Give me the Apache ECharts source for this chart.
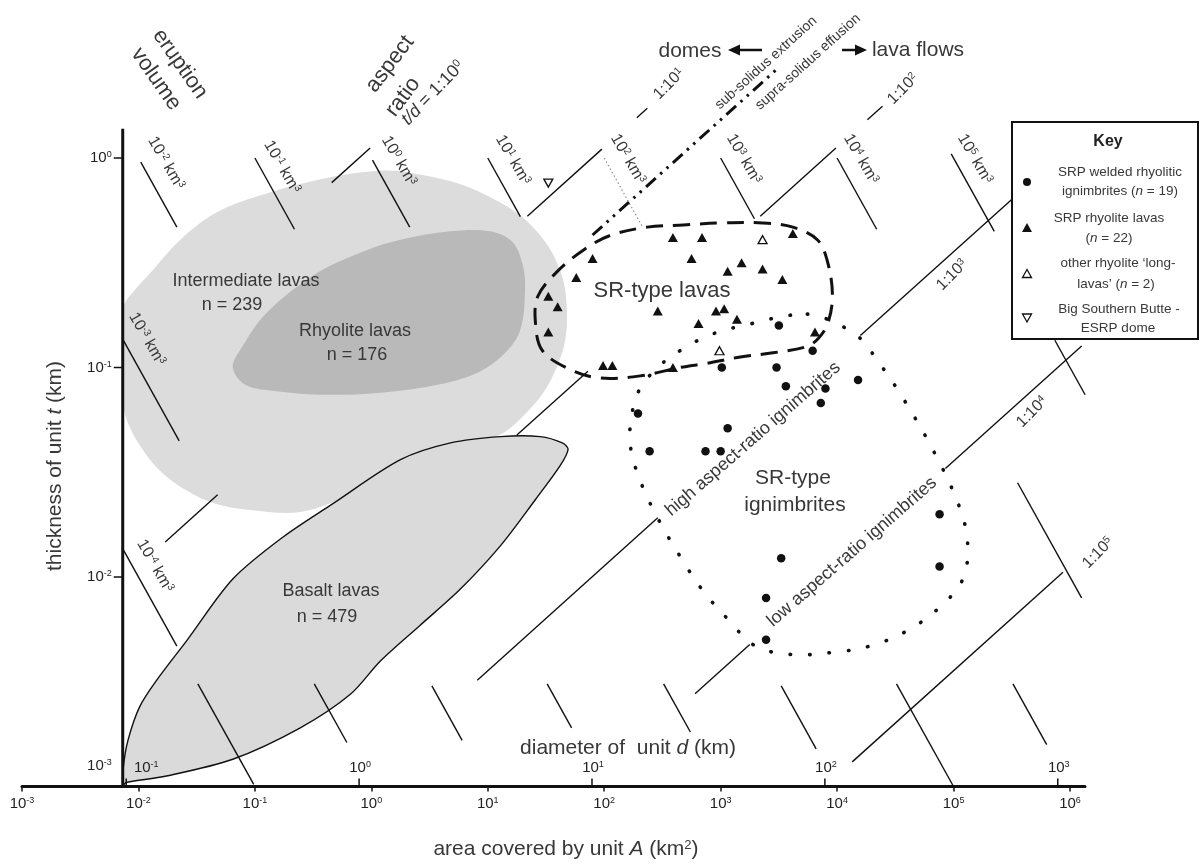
<!DOCTYPE html>
<html><head><meta charset="utf-8">
<script src="https://cdn.jsdelivr.net/npm/echarts@6/dist/echarts.min.js"></script>
<style>html,body{margin:0;padding:0;background:#fff}#c{width:1200px;height:864px}</style>
</head><body><div id="c"></div>
<script>
// All values are log10 exponents: x = log10(area A, km^2), y = log10(thickness t, km)
const areaTickExps = [-3, -2, -1, 0, 1, 2, 3, 4, 5, 6];
const thicknessTickExps = [0, -1, -2, -3];
const diameterTickExps = [-1, 0, 1, 2, 3];
const yAxisAreaExp = -2.135;
const yAxisTopExp = 0.14;

const intermediateLavas = [[-2.13,-0.71],[-2.03,-0.63],[-1.90,-0.55],[-1.64,-0.39],[-1.33,-0.26],[-0.90,-0.17],[-0.33,-0.09],[0.10,-0.06],[0.33,-0.07],[0.79,-0.13],[1.22,-0.25],[1.42,-0.35],[1.56,-0.46],[1.65,-0.59],[1.68,-0.73],[1.67,-0.85],[1.62,-0.96],[1.49,-1.11],[1.29,-1.24],[1.11,-1.32],[0.76,-1.39],[0.33,-1.49],[-0.18,-1.61],[-0.61,-1.69],[-1.04,-1.68],[-1.34,-1.65],[-1.58,-1.59],[-1.82,-1.49],[-1.99,-1.37],[-2.10,-1.25],[-2.13,-1.16],[-2.13,-0.85]];
const rhyoliteLavas = [[-1.19,-1.00],[-1.13,-0.92],[-0.90,-0.74],[-0.47,-0.55],[-0.04,-0.44],[0.25,-0.39],[0.68,-0.35],[1.02,-0.35],[1.21,-0.40],[1.30,-0.51],[1.32,-0.63],[1.28,-0.82],[1.15,-0.93],[0.93,-1.02],[0.59,-1.08],[0.08,-1.12],[-0.44,-1.13],[-0.87,-1.11],[-1.09,-1.08]];
const basaltLavas = [[-2.13,-2.99],[-2.13,-2.91],[-2.09,-2.78],[-1.99,-2.62],[-1.84,-2.49],[-1.58,-2.30],[-1.19,-2.01],[-0.76,-1.81],[-0.33,-1.65],[0.25,-1.44],[0.68,-1.36],[1.11,-1.33],[1.45,-1.33],[1.64,-1.36],[1.69,-1.39],[1.62,-1.47],[1.41,-1.63],[1.11,-1.85],[0.76,-2.06],[0.42,-2.23],[0.08,-2.40],[-0.18,-2.56],[-0.61,-2.72],[-1.19,-2.87],[-1.76,-2.95],[-2.10,-2.98]];
const srTypeLavas = [[1.47,-0.92],[1.41,-0.79],[1.43,-0.66],[1.60,-0.54],[1.82,-0.44],[2.05,-0.37],[2.37,-0.33],[2.68,-0.32],[2.99,-0.31],[3.36,-0.31],[3.62,-0.33],[3.83,-0.39],[3.92,-0.50],[3.96,-0.66],[3.92,-0.79],[3.84,-0.86],[3.74,-0.90],[3.45,-0.93],[3.17,-0.95],[2.88,-0.98],[2.65,-1.00],[2.31,-1.04],[1.96,-1.05],[1.71,-1.01]];
const srTypeIgnimbrites = [[3.60,-0.75],[3.27,-0.79],[2.93,-0.84],[2.65,-0.92],[2.44,-1.01],[2.29,-1.12],[2.22,-1.30],[2.24,-1.42],[2.33,-1.57],[2.48,-1.74],[2.65,-1.90],[2.84,-2.06],[3.06,-2.20],[3.30,-2.33],[3.61,-2.37],[3.96,-2.36],[4.28,-2.33],[4.59,-2.26],[4.87,-2.15],[5.08,-2.01],[5.12,-1.83],[5.04,-1.65],[4.82,-1.39],[4.57,-1.15],[4.39,-1.00],[4.18,-0.85],[4.03,-0.80],[3.81,-0.75]];

const srpIgnimbrites = [[3.50,-0.80],[3.01,-1.00],[3.48,-1.00],[3.79,-0.92],[3.56,-1.09],[3.90,-1.10],[4.18,-1.06],[3.86,-1.17],[2.29,-1.22],[3.06,-1.29],[2.39,-1.40],[2.87,-1.40],[3.00,-1.40],[4.88,-1.70],[3.52,-1.91],[4.88,-1.95],[3.39,-2.10],[3.39,-2.30]];
const srpRhyoliteLavas = [[2.59,-0.38],[2.84,-0.38],[3.62,-0.36],[1.90,-0.48],[1.76,-0.57],[2.75,-0.48],[3.06,-0.54],[3.18,-0.50],[3.36,-0.53],[3.53,-0.58],[1.52,-0.66],[1.60,-0.71],[1.52,-0.83],[2.46,-0.73],[2.96,-0.73],[3.03,-0.72],[2.81,-0.79],[3.14,-0.77],[3.81,-0.83],[1.99,-0.99],[2.07,-0.99],[2.59,-1.00]];
const otherLongLavas = [[3.36,-0.39],[2.99,-0.92]];
const bigSouthernButte = [[1.52,-0.12]];

// constant-volume segments: [log10 V (km^3), log10 t from, log10 t to]
const volumeSegments = [[-2,-0.02,-0.33],[-1,0.0,-0.34],[0,-0.01,-0.33],[1,0.0,-0.28],[3,0.0,-0.29],[4,0.0,-0.34],[5,0.02,-0.35],
  [-3,-0.86,-1.35],[-4,-1.86,-2.33],
  [-4,-2.51,-2.99],[-3,-2.51,-2.79],[-2,-2.52,-2.78],[-1,-2.51,-2.72],[0,-2.51,-2.74],[1,-2.52,-2.82],[2,-2.51,-3.0],[3,-2.51,-2.80],
  [4,-1.55,-2.10],[5,-0.87,-1.13]];
const volumeSegmentsDotted = [[2,0.0,-0.33]];
// constant aspect ratio t/d = 1:10^n segments: [n, log10 A from, log10 A to]
const aspectSegments = [[0,-0.34,-0.01],[1,-1.77,-1.32],[1,1.34,1.98],[1,2.28,2.37],[2,1.25,1.86],[2,3.34,3.99],[2,4.26,4.39],
  [3,0.91,2.46],[3,4.20,5.60],[4,2.78,3.25],[4,4.93,6.10],[5,4.13,5.94]];
// sub-solidus / supra-solidus boundary: [n, log10 A from, log10 A to]
const solidusLine = [[1.37,1.9,3.5]];

const F = "'Liberation Sans', Arial, Helvetica, sans-serif";
const INK = '#111111';
const TXT = '#383838';
const LOG_4_PI = Math.log10(4 / Math.PI);

function volSeg(s) { return [s[0] - s[1], s[1], s[0] - s[2], s[2]]; }
function aspT(n, a) { return 0.5 * (a + LOG_4_PI) - n; }
function aspSeg(s) { return [s[1], aspT(s[0], s[1]), s[2], aspT(s[0], s[2])]; }

function segSeries(data, style, z) {
  return { type: 'custom', z: z, silent: true, data: data, encode: { x: [0, 2], y: [1, 3] },
    renderItem: function (params, api) {
      const a = api.coord([api.value(0), api.value(1)]);
      const b = api.coord([api.value(2), api.value(3)]);
      return { type: 'line', shape: { x1: a[0], y1: a[1], x2: b[0], y2: b[1] }, style: style };
    } };
}
function regionSeries(points, style, smooth, z) {
  return { type: 'custom', z: z, silent: true, data: points,
    renderItem: function (params, api) {
      if (params.dataIndex !== 0) return null;
      const pts = points.map(function (p) { return api.coord(p); });
      return { type: 'polygon', shape: { points: pts, smooth: smooth }, style: style };
    } };
}
function supRich(size, color) {
  return { s: { fontSize: Math.round(size * 0.62), fontFamily: F, fill: color, verticalAlign: 'top' },
           i: { fontSize: size, fontFamily: F, fontStyle: 'italic', fill: color },
           b: { fontSize: size, fontFamily: F, fontWeight: 'bold', fill: color } };
}
function T(x, y, text, size, o) {
  o = o || {};
  const c = o.color || TXT;
  return { type: 'text', x: x, y: y, rotation: (o.rot || 0) * Math.PI / 180, z: 120, silent: true,
    style: { text: text, fontSize: size, fontFamily: F, fontWeight: o.bold ? 'bold' : 'normal', fill: c,
      align: o.align || 'center', verticalAlign: 'middle', rich: supRich(size, c) } };
}

const chart = echarts.init(document.getElementById('c'));

const series = [
  regionSeries(intermediateLavas, { fill: '#dcdcdc', stroke: 'none' }, 0.35, 1),
  regionSeries(rhyoliteLavas, { fill: '#b9b9b9', stroke: 'none' }, 0.35, 2),
  regionSeries(basaltLavas, { fill: '#dadada', stroke: INK, lineWidth: 1.4 }, 0.3, 3),
  segSeries(volumeSegments.map(volSeg), { stroke: INK, lineWidth: 1.4 }, 4),
  segSeries(volumeSegmentsDotted.map(volSeg), { stroke: '#8a8a8a', lineWidth: 1.2, lineDash: [1.5, 2.5] }, 4),
  segSeries(aspectSegments.map(aspSeg), { stroke: INK, lineWidth: 1.4 }, 4),
  segSeries(solidusLine.map(aspSeg), { stroke: INK, lineWidth: 3, lineDash: [13, 6, 2.5, 6, 2.5, 6] }, 4),
  regionSeries(srTypeLavas, { fill: 'none', stroke: INK, lineWidth: 3, lineDash: [17, 10] }, 0.35, 5),
  regionSeries(srTypeIgnimbrites, { fill: 'none', stroke: INK, lineWidth: 3.6, lineDash: [0.5, 19], lineCap: 'round' }, 0.35, 5),
  { type: 'line', z: 6, silent: true, symbol: 'none', data: [[yAxisAreaExp, -3], [yAxisAreaExp, yAxisTopExp]],
    lineStyle: { color: INK, width: 3 } },
  { type: 'custom', z: 6, silent: true, data: thicknessTickExps.map(function (e) { return [yAxisAreaExp, e]; }),
    renderItem: function (params, api) {
      const e = api.value(1);
      const p = api.coord([api.value(0), e]);
      const ch = [];
      if (e > -3) ch.push({ type: 'line', shape: { x1: p[0] - 9, y1: p[1], x2: p[0], y2: p[1] }, style: { stroke: INK, lineWidth: 1.5 } });
      ch.push({ type: 'text', x: p[0] - 11, y: e > -3 ? p[1] : p[1] - 21,
        style: { text: '10{s|' + e + '}', fontSize: 15, fontFamily: F, fill: '#222', align: 'right', verticalAlign: 'middle', rich: supRich(15, '#222') } });
      return { type: 'group', children: ch };
    } },
  { type: 'custom', z: 6, silent: true, encode: { x: 0, y: 1 },
    data: diameterTickExps.map(function (k) { return [2 * k - LOG_4_PI, -3, k]; }),
    renderItem: function (params, api) {
      const k = api.value(2);
      const p = api.coord([api.value(0), api.value(1)]);
      return { type: 'group', children: [
        { type: 'line', shape: { x1: p[0], y1: p[1], x2: p[0], y2: p[1] - 8 }, style: { stroke: INK, lineWidth: 1.5 } },
        { type: 'text', x: p[0] + (k === -1 ? 20 : 1), y: p[1] - 19,
          style: { text: '10{s|' + k + '}', fontSize: 15, fontFamily: F, fill: '#222', align: 'center', verticalAlign: 'middle', rich: supRich(15, '#222') } }
      ] };
    } },
  { type: 'scatter', z: 7, silent: true, data: srpIgnimbrites, symbol: 'circle', symbolSize: 8.5, itemStyle: { color: INK, opacity: 1 } },
  { type: 'scatter', z: 7, silent: true, data: srpRhyoliteLavas, symbol: 'triangle', symbolSize: [10, 9], itemStyle: { color: INK, opacity: 1 } },
  { type: 'scatter', z: 7, silent: true, data: otherLongLavas, symbol: 'triangle', symbolSize: [9, 8], itemStyle: { color: '#fff', borderColor: INK, borderWidth: 1.3, opacity: 1 } },
  { type: 'scatter', z: 7, silent: true, data: bigSouthernButte, symbol: 'triangle', symbolRotate: 180, symbolSize: [9, 8], itemStyle: { color: '#fff', borderColor: INK, borderWidth: 1.3, opacity: 1 } }
];

const graphic = [
  // axis titles
  T(566, 849, 'area covered by unit {i|A} (km{s|2})', 21),
  T(55, 466, 'thickness of unit {i|t} (km)', 21, { rot: 90 }),
  T(628, 748, 'diameter of  unit {i|d} (km)', 21),
  // corner headings
  T(180, 64, 'eruption', 22, { rot: -55 }),
  T(156, 79, 'volume', 22, { rot: -55 }),
  T(390, 64, 'aspect', 22, { rot: 53 }),
  T(403, 97, 'ratio', 22, { rot: 53 }),
  T(433, 93, '{i|t/d} = 1:10{s|0}', 18, { rot: 46 }),
  T(690, 51, 'domes', 21),
  T(918, 50, 'lava flows', 21),
  // volume labels
  T(166, 163, '10{s|-2} km{s|3}', 16, { rot: -60 }),
  T(282, 167, '10{s|-1} km{s|3}', 16, { rot: -60 }),
  T(399, 161, '10{s|0} km{s|3}', 16, { rot: -60 }),
  T(513, 160, '10{s|1} km{s|3}', 16, { rot: -60 }),
  T(628, 159, '10{s|2} km{s|3}', 16, { rot: -60 }),
  T(744, 159, '10{s|3} km{s|3}', 16, { rot: -60 }),
  T(861, 159, '10{s|4} km{s|3}', 16, { rot: -60 }),
  T(975, 159, '10{s|5} km{s|3}', 16, { rot: -60 }),
  T(147, 339, '10{s|-3} km{s|3}', 16, { rot: -60 }),
  T(155, 566, '10{s|-4} km{s|3}', 16, { rot: -60 }),
  // aspect ratio labels
  T(669, 84, '1:10{s|1}', 16, { rot: 45 }),
  T(903, 89, '1:10{s|2}', 16, { rot: 45 }),
  T(952, 275, '1:10{s|3}', 16, { rot: 45 }),
  T(1032, 412, '1:10{s|4}', 16, { rot: 45 }),
  T(1098, 553, '1:10{s|5}', 16, { rot: 45 }),
  T(766, 63, 'sub-solidus extrusion', 14, { rot: 42 }),
  T(808, 62, 'supra-solidus effusion', 14, { rot: 42 }),
  // region labels
  T(246, 281, 'Intermediate lavas', 18),
  T(232, 305, 'n = 239', 18),
  T(355, 331, 'Rhyolite lavas', 18),
  T(357, 355, 'n = 176', 18),
  T(331, 591, 'Basalt lavas', 18),
  T(327, 617, 'n = 479', 18),
  T(662, 291, 'SR-type lavas', 22),
  T(793, 478, 'SR-type', 21),
  T(795, 505, 'ignimbrites', 21),
  T(753, 439, 'high aspect-ratio ignimbrites', 18, { rot: 41 }),
  T(852, 552, 'low aspect-ratio ignimbrites', 18, { rot: 41 }),
  // arrows
  { type: 'line', z: 120, shape: { x1: 736, y1: 50, x2: 762, y2: 50 }, style: { stroke: INK, lineWidth: 2.5 } },
  { type: 'polygon', z: 120, shape: { points: [[728, 50], [740, 44.5], [740, 55.5]] }, style: { fill: INK } },
  { type: 'line', z: 120, shape: { x1: 842, y1: 50, x2: 858, y2: 50 }, style: { stroke: INK, lineWidth: 2.5 } },
  { type: 'polygon', z: 120, shape: { points: [[867, 50], [855, 44.5], [855, 55.5]] }, style: { fill: INK } },
  // key
  { type: 'rect', z: 110, shape: { x: 1012, y: 122, width: 186, height: 217 }, style: { fill: '#fff', stroke: INK, lineWidth: 2 } },
  T(1108, 142, 'Key', 16, { bold: true, color: '#222' }),
  { type: 'circle', z: 120, shape: { cx: 1027, cy: 182, r: 4 }, style: { fill: INK } },
  T(1120, 172, 'SRP welded rhyolitic', 13.5),
  T(1120, 191, 'ignimbrites ({i|n} = 19)', 13.5),
  { type: 'polygon', z: 120, shape: { points: [[1022, 232], [1032, 232], [1027, 223]] }, style: { fill: INK } },
  T(1109, 218, 'SRP rhyolite lavas', 13.5),
  T(1109, 238, '({i|n} = 22)', 13.5),
  { type: 'polygon', z: 120, shape: { points: [[1022.5, 277.5], [1031.5, 277.5], [1027, 269.5]] }, style: { fill: '#fff', stroke: INK, lineWidth: 1.3 } },
  T(1118, 263, 'other rhyolite \u2018long-', 13.5),
  T(1116, 284, 'lavas\u2019 ({i|n} = 2)', 13.5),
  { type: 'polygon', z: 120, shape: { points: [[1022.5, 314], [1031.5, 314], [1027, 322]] }, style: { fill: '#fff', stroke: INK, lineWidth: 1.3 } },
  T(1119, 309, 'Big Southern Butte -', 13.5),
  T(1118, 328, 'ESRP dome', 13.5)
];

chart.setOption({
  animation: false,
  backgroundColor: '#fff',
  grid: { left: 22, right: 115, top: 0, bottom: 77.5 },
  xAxis: { type: 'value', min: -3, max: 6.129, interval: 1, splitLine: { show: false },
    axisLine: { show: true, onZero: false, lineStyle: { color: INK, width: 3 } },
    axisTick: { show: true, length: 5, customValues: areaTickExps, lineStyle: { color: INK, width: 1.5 } },
    axisLabel: { margin: 10, customValues: areaTickExps, showMinLabel: true, showMaxLabel: true,
      formatter: function (v) { if (Math.abs(v - Math.round(v)) > 1e-6) return ''; return '{b|10}{s|' + Math.round(v) + '}'; },
      rich: { b: { fontSize: 15, fontFamily: F, color: '#222' }, s: { fontSize: 9, fontFamily: F, color: '#222', verticalAlign: 'top' } } } },
  yAxis: { type: 'value', min: -3, max: 0.7542, show: false },
  series: series,
  graphic: graphic
});
</script></body></html>
